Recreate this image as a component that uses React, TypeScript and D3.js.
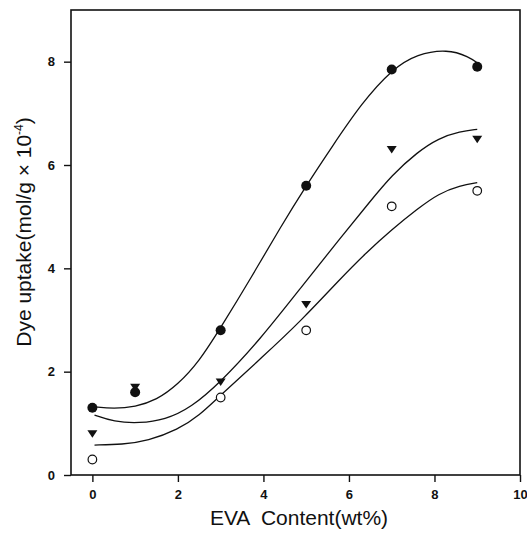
import React, { useEffect, useRef } from 'react';
import * as d3 from 'd3';

// measured points (EVA wt%, dye uptake x10^-4 mol/g)
const evaContent = [0, 1, 3, 5, 7, 9];
const filledVals = [1.3, 1.6, 2.8, 5.6, 7.85, 7.9];
const triangleVals = [0.8, 1.7, 1.8, 3.3, 6.3, 6.5];
const openX = [0, 3, 5, 7, 9];
const openVals = [0.3, 1.5, 2.8, 5.2, 5.5];

// fitted curves
const fitFilled: [number, number][] = [
  [0.05, 1.32], [0.5, 1.28], [1.0, 1.32], [1.5, 1.45], [2.0, 1.75], [2.5, 2.2],
  [3.0, 2.85], [3.7, 3.8], [4.4, 4.8], [5.0, 5.6], [5.6, 6.35], [6.3, 7.2],
  [7.0, 7.85], [7.6, 8.15], [8.3, 8.24], [8.8, 8.1], [9.05, 7.95],
];
const fitTriangle: [number, number][] = [
  [0.05, 1.16], [0.5, 1.03], [1.1, 1.0], [1.7, 1.07], [2.3, 1.3], [3.0, 1.8],
  [3.9, 2.6], [4.9, 3.65], [5.8, 4.59], [6.5, 5.3], [7.0, 5.8], [7.6, 6.25],
  [8.1, 6.52], [8.6, 6.65], [9.0, 6.69],
];
const fitOpen: [number, number][] = [
  [0.05, 0.58], [0.7, 0.59], [1.3, 0.66], [2.0, 0.88], [2.5, 1.15], [3.0, 1.55],
  [4.0, 2.3], [4.9, 3.0], [5.8, 3.8], [6.4, 4.3], [7.0, 4.75], [7.6, 5.15],
  [8.1, 5.45], [8.6, 5.6], [9.0, 5.66],
];

const xTicks = [0, 2, 4, 6, 8, 10];
const yTicks = [0, 2, 4, 6, 8];

const W = 527;
const H = 533;

const App = () => {
  const svgRef = useRef<SVGSVGElement>(null);

  useEffect(() => {
    const svg = d3.select(svgRef.current);
    svg.selectAll('*').remove();

    const left = 71, right = 520, top = 10, bottom = 475;
    const x = d3.scaleLinear().domain([-0.5, 10]).range([left, right]);
    const y = d3.scaleLinear().domain([0, 9]).range([bottom, top]);

    const font = 'Liberation Sans, Arial, sans-serif';

    // frame
    svg.append('rect')
      .attr('x', left).attr('y', top)
      .attr('width', right - left).attr('height', bottom - top)
      .attr('fill', 'none').attr('stroke', '#111').attr('stroke-width', 1.6);

    const xAxis = svg.append('g')
      .attr('transform', `translate(0,${bottom})`)
      .call(d3.axisBottom(x).tickValues(xTicks).tickSize(7).tickPadding(8).tickFormat(d3.format('d')));
    const yAxis = svg.append('g')
      .attr('transform', `translate(${left},0)`)
      .call(d3.axisLeft(y).tickValues(yTicks).tickSize(7).tickPadding(9).tickFormat(d3.format('d')));

    [xAxis, yAxis].forEach(g => {
      g.select('.domain').remove();
      g.selectAll('line').attr('stroke', '#111').attr('stroke-width', 1.4);
      g.selectAll('text')
        .attr('fill', '#111')
        .style('font-family', font)
        .style('font-size', '13px')
        .style('font-weight', 'bold');
    });

    const line = d3.line<[number, number]>()
      .x(d => x(d[0]))
      .y(d => y(d[1]))
      .curve(d3.curveBasis);

    [fitFilled, fitTriangle, fitOpen].forEach(pts => {
      svg.append('path')
        .attr('d', line(pts))
        .attr('fill', 'none')
        .attr('stroke', '#111')
        .attr('stroke-width', 1.3);
    });

    // filled circles
    svg.append('g').selectAll('circle')
      .data(evaContent.map((v, i) => [v, filledVals[i]]))
      .join('circle')
      .attr('cx', d => x(d[0])).attr('cy', d => y(d[1]))
      .attr('r', 5).attr('fill', '#111');

    // down triangles
    const tri = (cx: number, cy: number) =>
      `M${cx - 5},${cy - 3.5}L${cx + 5},${cy - 3.5}L${cx},${cy + 4}Z`;
    svg.append('g').selectAll('path')
      .data(evaContent.map((v, i) => [v, triangleVals[i]]))
      .join('path')
      .attr('d', d => tri(x(d[0]), y(d[1])))
      .attr('fill', '#111');

    // open circles
    svg.append('g').selectAll('circle')
      .data(openX.map((v, i) => [v, openVals[i]]))
      .join('circle')
      .attr('cx', d => x(d[0])).attr('cy', d => y(d[1]))
      .attr('r', 4.3).attr('fill', 'white')
      .attr('stroke', '#111').attr('stroke-width', 1.2);

    // axis titles
    svg.append('text')
      .attr('x', 299).attr('y', 525)
      .attr('text-anchor', 'middle')
      .style('font-family', font).style('font-size', '21px')
      .style('white-space', 'pre')
      .attr('fill', '#111')
      .text('EVA  Content(wt%)');

    const yl = svg.append('text')
      .attr('transform', `translate(31,232) rotate(-90)`)
      .attr('text-anchor', 'middle')
      .style('font-family', font).style('font-size', '21px')
      .attr('fill', '#111');
    yl.append('tspan').text('Dye uptake(mol/g \u00d7 10');
    yl.append('tspan').attr('dy', -8).style('font-size', '12px').text('-4');
    yl.append('tspan').attr('dy', 8).text(')');
  }, []);

  return (
    <svg ref={svgRef} width={W} height={H}
      style={{ position: 'absolute', left: 0, top: 0, background: 'white' }} />
  );
};

export default App;
